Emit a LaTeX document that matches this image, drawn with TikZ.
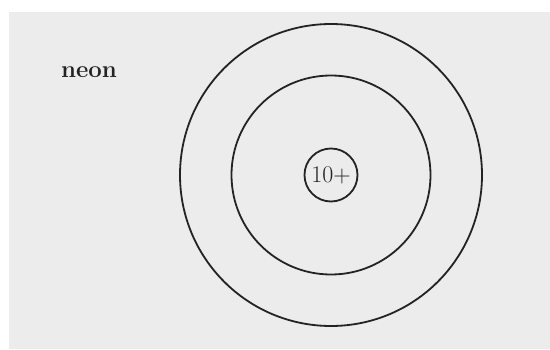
\documentclass[tikz,border=0pt]{standalone}
\definecolor{paper}{RGB}{236,236,236}
\definecolor{ink}{RGB}{35,35,35}
\begin{document}
\begin{tikzpicture}[x=1pt,y=1pt,line width=1.8pt,line cap=round,line join=round,
 font=\fontsize{24}{28}\selectfont,draw=ink,text=ink]
\useasboundingbox (0,0) rectangle (550,349);
\fill[paper] (9,0) rectangle (550,337);
% nucleus and the two shells
\node[circle,draw=ink,inner sep=0pt,minimum size=53pt] (nucleus) at (331,174) {10+};
\draw[ink] (nucleus.center) circle (99.5);
\draw[ink] (nucleus.center) circle (151);
\node[font=\fontsize{24}{28}\selectfont\bfseries] (name) at (89,277) {neon};
\end{tikzpicture}
\end{document}
